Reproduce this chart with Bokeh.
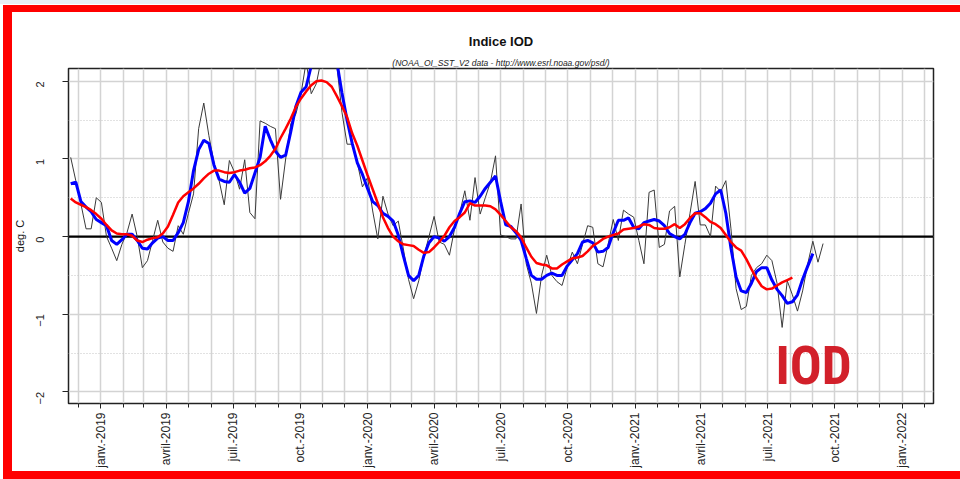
import math
import pandas as pd
from bokeh.plotting import figure
from bokeh.models import FixedTicker, Span, Title, Label, Range1d
from bokeh.embed import file_html
from bokeh.resources import INLINE

# ---------------- data ----------------
start_date = "2018-11-21"   # first weekly value

raw_iod = [
    1.02, 0.72, 0.42, 0.10, 0.10, 0.50, 0.44, 0.00, -0.15, -0.31,
    -0.10, 0.05, 0.29, 0.00, -0.40, -0.31, -0.05, 0.21, -0.07, -0.15,
    -0.19, 0.14, 0.03, 0.30, 0.55, 1.39, 1.72, 1.30, 0.95, 0.72,
    0.41, 0.98, 0.83, 0.61, 0.99, 0.31, 0.23, 1.49, 1.46, 1.42,
    1.39, 0.48, 1.00, 1.45, 1.58, 1.84, 2.25, 1.84, 1.97, 2.30,
    2.50, 2.40, 2.20, 1.60, 1.19, 1.19, 0.95, 0.64, 0.76, 0.33,
    -0.03, 0.52, 0.29, 0.14, 0.20, -0.16, -0.55, -0.80, -0.57, -0.25,
    0.00, 0.26, -0.07, -0.10, -0.24, 0.10, 0.30, 0.59, 0.21, 0.76,
    0.29, 0.50, 0.70, 1.04, 0.02, 0.00, -0.03, -0.03, 0.42, -0.35,
    -0.60, -0.99, -0.50, -0.24, -0.50, -0.58, -0.63, -0.40, -0.20, -0.35,
    -0.10, 0.14, 0.12, -0.35, -0.39, -0.10, 0.22, -0.05, 0.34, 0.29,
    0.25, -0.05, -0.35, 0.57, 0.60, -0.14, -0.10, 0.33, 0.39, -0.52,
    -0.10, 0.30, 0.71, 0.15, 0.15, 0.00, 0.65, 0.58, 0.72, 0.10,
    -0.67, -0.94, -0.90, -0.50, -0.40, -0.35, -0.24, -0.31, -0.60, -1.17,
    -0.57, -0.75, -0.96, -0.70, -0.35, -0.06, -0.33, -0.09,
]

blue_iod = [
    0.68, 0.70, 0.45, 0.38, 0.32, 0.22, 0.18, 0.14, -0.05, -0.10,
    -0.04, 0.03, 0.03, -0.05, -0.15, -0.16, -0.08, -0.02, 0.00, -0.05,
    -0.05, 0.05, 0.18, 0.45, 0.85, 1.12, 1.24, 1.20, 0.92, 0.74,
    0.71, 0.70, 0.80, 0.70, 0.56, 0.62, 0.82, 1.02, 1.42, 1.25,
    1.10, 1.02, 1.05, 1.35, 1.68, 1.86, 1.93, 2.20, 2.40, 2.50,
    2.50, 2.40, 2.25, 1.85, 1.50, 1.20, 0.95, 0.80, 0.62, 0.45,
    0.40, 0.30, 0.26, 0.20, 0.02, -0.25, -0.50, -0.57, -0.50, -0.25,
    -0.08, 0.00, -0.02, -0.06, 0.00, 0.12, 0.30, 0.45, 0.46, 0.44,
    0.52, 0.62, 0.70, 0.78, 0.45, 0.15, 0.13, 0.05, -0.05, -0.28,
    -0.50, -0.55, -0.55, -0.50, -0.47, -0.50, -0.50, -0.38, -0.30, -0.22,
    -0.07, -0.05, -0.08, -0.20, -0.19, -0.14, 0.05, 0.21, 0.21, 0.24,
    0.12, 0.10, 0.18, 0.20, 0.22, 0.20, 0.14, 0.04, 0.00, -0.03,
    0.03, 0.18, 0.30, 0.32, 0.36, 0.43, 0.55, 0.60, 0.30, -0.15,
    -0.52, -0.70, -0.72, -0.60, -0.45, -0.40, -0.40, -0.56, -0.68, -0.76,
    -0.86, -0.84, -0.75, -0.55, -0.38, -0.22,
]

red_iod = [
    0.49, 0.44, 0.41, 0.38, 0.34, 0.29, 0.23, 0.15, 0.08, 0.04,
    0.03, 0.03, 0.01, -0.05, -0.07, -0.04, -0.02, -0.01, 0.04, 0.13,
    0.28, 0.44, 0.52, 0.57, 0.62, 0.68, 0.75, 0.81, 0.85, 0.85,
    0.83, 0.82, 0.83, 0.85, 0.86, 0.88, 0.89, 0.92, 0.97, 1.04,
    1.13, 1.27, 1.39, 1.52, 1.67, 1.78, 1.87, 1.95, 2.00, 2.01,
    1.99, 1.93, 1.81, 1.68, 1.54, 1.33, 1.17, 0.98, 0.79, 0.61,
    0.43, 0.25, 0.11, 0.00, -0.06, -0.10, -0.11, -0.12, -0.17, -0.21,
    -0.20, -0.14, -0.07, 0.01, 0.12, 0.20, 0.25, 0.31, 0.43, 0.40,
    0.40, 0.40, 0.39, 0.35, 0.28, 0.20, 0.12, 0.07, -0.01, -0.14,
    -0.26, -0.34, -0.36, -0.37, -0.41, -0.41, -0.36, -0.32, -0.28, -0.27,
    -0.25, -0.19, -0.12, -0.08, -0.03, 0.00, 0.02, 0.04, 0.09, 0.10,
    0.11, 0.13, 0.16, 0.15, 0.11, 0.10, 0.10, 0.12, 0.16, 0.11,
    0.16, 0.24, 0.30, 0.30, 0.25, 0.19, 0.16, 0.11, 0.02, -0.07,
    -0.14, -0.18, -0.29, -0.42, -0.54, -0.64, -0.68, -0.67, -0.63, -0.59,
    -0.56, -0.53,
]

tick_dates = ["2019-01-01", "2019-04-01", "2019-07-01", "2019-10-01",
              "2020-01-01", "2020-04-01", "2020-07-01", "2020-10-01",
              "2021-01-01", "2021-04-01", "2021-07-01", "2021-10-01",
              "2022-01-01"]
tick_labels = ["janv.-2019", "avril-2019", "juil.-2019", "oct.-2019",
               "janv.-2020", "avril-2020", "juil.-2020", "oct.-2020",
               "janv.-2021", "avril-2021", "juil.-2021", "oct.-2021",
               "janv.-2022"]
y_ticks = [-2, -1, 0, 1, 2]
y_half = [-1.5, -0.5, 0.5, 1.5]

x_start, x_end = "2018-11-18", "2022-02-13"
iod_label_date = "2021-09-02"

# ---------------- build ----------------
weeks = pd.date_range(start_date, periods=len(raw_iod), freq="7D")
months = pd.date_range("2018-12-01", "2022-02-01", freq="MS")

def ms(d):
    return float(pd.Timestamp(d).value // 10**6)

tick_ms = [ms(d) for d in tick_dates]
month_ms = [ms(d) for d in months]

FONT = "Liberation Sans, Arial, Helvetica, sans-serif"

p = figure(width=960, height=479, x_axis_type="datetime",
           x_range=Range1d(pd.Timestamp(x_start), pd.Timestamp(x_end)),
           y_range=Range1d(-2.15, 2.165),
           output_backend="svg", toolbar_location=None, title=None,
           min_border_left=68, min_border_right=27,
           min_border_top=68, min_border_bottom=76,
           background_fill_color="white", border_fill_color=None)

# red frame of the picture (painted as the element background behind a transparent border)
p.styles = {
    "background":
        "linear-gradient(#ff0000, #ff0000) 3px 5px / 9px 474px no-repeat, "
        "linear-gradient(#ff0000, #ff0000) 3px 5px / 957px 7px no-repeat, "
        "linear-gradient(#ff0000, #ff0000) 3px 471px / 957px 8px no-repeat, "
        "linear-gradient(#e8eef5, #e8eef5) 0px 0px / 960px 4px no-repeat, "
        "#ffffff",
}

p.outline_line_color = "#222222"
p.outline_line_width = 1.5

# x axis
p.xaxis.ticker = FixedTicker(ticks=tick_ms, minor_ticks=month_ms)
p.xaxis.major_label_overrides = {t: l for t, l in zip(tick_ms, tick_labels)}
p.xaxis.major_label_orientation = math.pi / 2
p.xaxis.axis_line_color = None
p.xaxis.major_tick_out = 5
p.xaxis.major_tick_in = 0
p.xaxis.minor_tick_out = 4
p.xaxis.minor_tick_in = 0
p.xaxis.major_tick_line_color = "#222222"
p.xaxis.minor_tick_line_color = "#222222"
p.xaxis.major_label_standoff = 4
p.xaxis.major_label_text_font = FONT
p.xaxis.major_label_text_font_size = "12px"
p.xaxis.major_label_text_color = "#222222"

# y axis
p.yaxis.ticker = FixedTicker(ticks=y_ticks)
p.yaxis.major_label_orientation = math.pi / 2
p.yaxis.axis_line_color = None
p.yaxis.major_tick_out = 6
p.yaxis.major_tick_in = 0
p.yaxis.minor_tick_line_color = None
p.yaxis.major_tick_line_color = "#222222"
p.yaxis.major_label_standoff = 22
p.yaxis.major_label_text_font = FONT
p.yaxis.major_label_text_font_size = "11px"
p.yaxis.major_label_text_color = "#222222"
p.yaxis.axis_label = "deg. C"
p.yaxis.axis_label_text_font = FONT
p.yaxis.axis_label_text_font_style = "normal"
p.yaxis.axis_label_text_font_size = "11px"
p.yaxis.axis_label_text_color = "#111111"
p.yaxis.axis_label_standoff = 4

# grids
p.xgrid.ticker = FixedTicker(ticks=month_ms)
p.xgrid.grid_line_color = "#d3d3d3"
p.xgrid.grid_line_width = 1.5
p.ygrid.ticker = FixedTicker(ticks=y_ticks, minor_ticks=y_half)
p.ygrid.grid_line_color = "#d3d3d3"
p.ygrid.grid_line_width = 1.5
p.ygrid.minor_grid_line_color = "#c4c4c4"
p.ygrid.minor_grid_line_dash = "1 2"
p.ygrid.minor_grid_line_width = 1

p.add_layout(Span(location=0, dimension="width", line_color="black",
                  line_width=2.2, level="underlay"))

# series
p.line(weeks, raw_iod, line_color="#3a3a3a", line_width=1)
p.line(weeks[:len(blue_iod)], blue_iod, line_color="#0000ff", line_width=3)
p.line(weeks[:len(red_iod)], red_iod, line_color="#ff0000", line_width=2.5)

# IOD label
p.add_layout(Label(x=ms(iod_label_date), y=-1.67, text="IOD",
                   text_align="center", text_baseline="middle",
                   text_font="Liberation Sans Narrow, Roboto Condensed, Liberation Sans, sans-serif",
                   text_font_style="bold", text_font_size="53px",
                   text_color="#d2202a"))

# titles
p.add_layout(Title(text="(NOAA_OI_SST_V2 data - http://www.esrl.noaa.gov/psd/)",
                   align="center", text_font=FONT, text_font_size="8.5px",
                   text_font_style="italic", text_color="#222222",
                   standoff=2), "above")
p.add_layout(Title(text="Indice IOD", align="center", text_font=FONT,
                   text_font_size="13px", text_font_style="bold",
                   text_color="#111111", standoff=11), "above")

open("out.html", "w").write(file_html(p, INLINE))
